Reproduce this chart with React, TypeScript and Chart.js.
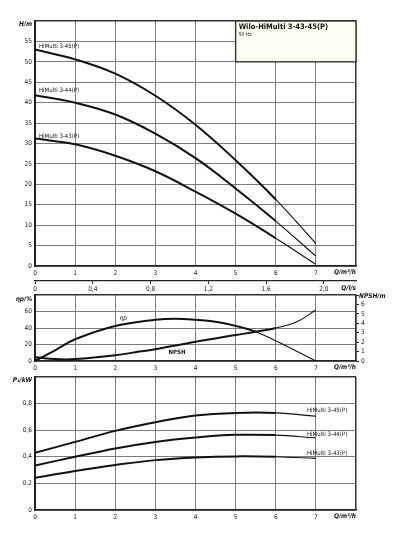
import React, { useEffect, useRef } from 'react';
import { Chart, registerables } from 'chart.js';

Chart.register(...registerables);

const FONT = "'DejaVu Sans Condensed', 'Liberation Sans Narrow', 'DejaVu Sans', sans-serif";

// ---- data ----
const flow = [0, 1, 2, 3, 4, 5, 6, 7];
const head45 = [53.0, 50.6, 47.1, 41.7, 34.6, 25.9, 16.3, 5.5];
const head44 = [41.8, 40.0, 37.1, 32.4, 26.4, 19.0, 11.0, 2.4];
const head43 = [31.2, 29.8, 27.0, 23.2, 18.2, 12.8, 6.8, 0.4];

const flowEta = [0, 0.5, 1, 2, 3, 3.5, 4, 4.5, 5, 5.5, 6, 7];
const eta = [0, 13, 26.3, 42.4, 50.0, 51.3, 50.0, 47.5, 42.6, 35.5, 24.5, 0];

const flowNpsh = [0, 0.5, 1, 2, 2.6, 3, 4, 5, 5.5, 6, 6.5, 7];
const npsh = [0.4, 0.2, 0.2, 0.6, 1.0, 1.25, 2.05, 2.75, 3.1, 3.5, 4.1, 5.4];

const power45 = [0.43, 0.512, 0.595, 0.66, 0.71, 0.73, 0.73, 0.705];
const power44 = [0.335, 0.4, 0.463, 0.512, 0.545, 0.565, 0.563, 0.543];
const power43 = [0.242, 0.293, 0.338, 0.375, 0.395, 0.403, 0.4, 0.388];

const flowTicksMax = 8;
const lsTicks = [0, 0.4, 0.8, 1.2, 1.6, 2.0];
const lsLabels = ['0', '0,4', '0,8', '1,2', '1,6', '2,0'];
const seriesNames = ['HiMulti 3-45(P)', 'HiMulti 3-44(P)', 'HiMulti 3-43(P)'];
const title = 'Wilo-HiMulti 3-43-45(P)';
const subtitle = '50 Hz';

const pts = (xs: number[], ys: number[]) => xs.map((x, i) => ({ x, y: ys[i] }));

const GRID = '#6e6e6e';
const EDGE = '#333';
const TICK_FONT = { family: FONT, size: 6.5 };

function txt(ctx: CanvasRenderingContext2D, s: string, x: number, y: number, font: string, align: CanvasTextAlign = 'left', color = '#111') {
  ctx.save();
  ctx.font = font;
  ctx.fillStyle = color;
  ctx.textAlign = align;
  ctx.textBaseline = 'middle';
  ctx.fillText(s, x, y);
  ctx.restore();
}

function line(data: { x: number; y: number }[], thinFrom: number, yAxisID = 'y') {
  return {
    data,
    yAxisID,
    borderColor: '#111',
    borderWidth: 2,
    pointRadius: 0,
    fill: false,
    tension: 0.4,
    segment: { borderWidth: (c: any) => (c.p0.parsed.x >= thinFrom ? 1.1 : 2) },
  };
}

function xScale(height: number) {
  return {
    type: 'linear',
    position: 'bottom',
    min: 0,
    max: flowTicksMax,
    weight: 0,
    afterBuildTicks: (s: any) => {
      s.ticks = [0, 1, 2, 3, 4, 5, 6, 7, 8].map((v) => ({ value: v }));
    },
    ticks: {
      callback: (v: any) => (v < flowTicksMax ? String(v) : ''),
      font: TICK_FONT,
      color: '#222',
      padding: 3,
      maxRotation: 0,
      autoSkip: false,
    },
    grid: {
      drawTicks: false,
      color: (c: any) => (c.tick && c.tick.value === flowTicksMax ? EDGE : GRID),
      lineWidth: (c: any) => (c.tick && c.tick.value === flowTicksMax ? 1.5 : 0.9),
    },
    border: { color: '#222', width: 1.6 },
    afterFit: (s: any) => {
      s.height = height;
    },
  };
}

function yScale(min: number, max: number, step: number, fmt: (v: number) => string) {
  return {
    type: 'linear',
    position: 'left',
    min,
    max,
    afterBuildTicks: (s: any) => {
      const t = [];
      for (let v = min; v <= max + 1e-9; v += step) t.push({ value: Math.round(v * 1000) / 1000 });
      s.ticks = t;
    },
    ticks: {
      callback: (v: any) => (v < max - 1e-9 ? fmt(v) : ''),
      font: TICK_FONT,
      color: '#222',
      padding: 3,
      autoSkip: false,
    },
    grid: {
      drawTicks: false,
      color: (c: any) => (c.tick && Math.abs(c.tick.value - max) < 1e-9 ? EDGE : GRID),
      lineWidth: (c: any) => (c.tick && Math.abs(c.tick.value - max) < 1e-9 ? 1.5 : 0.9),
    },
    border: { color: '#222', width: 2 },
    afterFit: (s: any) => {
      s.width = 35;
    },
  };
}

const UNIT_FONT = `italic bold 6.5px ${FONT}`;
const LABEL_FONT = `6px ${FONT}`;

function makeHead(): any {
  return {
    type: 'line',
    data: {
      datasets: [line(pts(flow, head45), 6), line(pts(flow, head44), 6), line(pts(flow, head43), 6)],
    },
    options: {
      responsive: false,
      animation: false,
      layout: { padding: { top: 21, right: 42, bottom: 4, left: 0 } },
      plugins: { legend: { display: false }, tooltip: { enabled: false } },
      scales: {
        x: xScale(15),
        x2: {
          type: 'linear',
          position: 'bottom',
          weight: 1,
          min: 0,
          max: flowTicksMax / 3.6,
          afterBuildTicks: (s: any) => {
            s.ticks = lsTicks.map((v) => ({ value: v }));
          },
          ticks: {
            callback: (_v: any, i: number) => lsLabels[i] ?? '',
            font: TICK_FONT,
            color: '#222',
            padding: 1,
            maxRotation: 0,
            autoSkip: false,
          },
          grid: { drawOnChartArea: false, tickLength: 3, color: '#222', lineWidth: 1 },
          border: { color: '#222', width: 1.2 },
          afterFit: (s: any) => {
            s.height = 15;
          },
        },
        y: yScale(0, 60, 5, (v) => String(v)),
      },
    },
    plugins: [
      {
        id: 'headLabels',
        afterDraw(chart: any) {
          const { ctx, chartArea } = chart;
          const xs = chart.scales.x;
          const ys = chart.scales.y;
          txt(ctx, 'H/m', chartArea.left - 3, chartArea.top + 3, UNIT_FONT, 'right');
          txt(ctx, 'Q/m³/h', chartArea.right, chartArea.bottom + 6.5, UNIT_FONT, 'right');
          txt(ctx, 'Q/l/s', chartArea.right, chartArea.bottom + 22, UNIT_FONT, 'right');
          // curve labels
          const lx = xs.getPixelForValue(0.1);
          txt(ctx, seriesNames[0], lx, ys.getPixelForValue(53.85), LABEL_FONT);
          txt(ctx, seriesNames[1], lx, ys.getPixelForValue(43.0), LABEL_FONT);
          txt(ctx, seriesNames[2], lx, ys.getPixelForValue(31.8), LABEL_FONT);
          // title box
          const bx = xs.getPixelForValue(5);
          const by = chartArea.top;
          const bw = chartArea.right - bx;
          const bh = ys.getPixelForValue(50) - by;
          ctx.save();
          ctx.fillStyle = '#fdfcf0';
          ctx.fillRect(bx, by, bw, bh);
          ctx.strokeStyle = '#333';
          ctx.lineWidth = 1.4;
          ctx.strokeRect(bx, by, bw, bh);
          ctx.restore();
          txt(ctx, title, bx + 3, by + 6, `bold 7.5px ${FONT}`);
          txt(ctx, subtitle, bx + 3, by + 14, `5px ${FONT}`);
        },
      },
    ],
  };
}

function makeEff(): any {
  return {
    type: 'line',
    data: {
      datasets: [line(pts(flowEta, eta), 5.5, 'y'), line(pts(flowNpsh, npsh), 6.0, 'y1')],
    },
    options: {
      responsive: false,
      animation: false,
      layout: { padding: { top: 10, right: 0, bottom: 7, left: 0 } },
      plugins: { legend: { display: false }, tooltip: { enabled: false } },
      scales: {
        x: xScale(12),
        y: yScale(0, 80, 20, (v) => String(v)),
        y1: {
          type: 'linear',
          position: 'right',
          min: 0,
          max: 7,
          afterBuildTicks: (s: any) => {
            s.ticks = [0, 1, 2, 3, 4, 5, 6, 7].map((v) => ({ value: v }));
          },
          ticks: {
            callback: (v: any) => (v < 7 ? String(v) : ''),
            font: TICK_FONT,
            color: '#222',
            padding: 2,
            autoSkip: false,
          },
          grid: { drawOnChartArea: false, tickLength: 3, color: '#222', lineWidth: 1 },
          border: { color: EDGE, width: 1.5 },
          afterFit: (s: any) => {
            s.width = 42;
          },
        },
      },
    },
    plugins: [
      {
        id: 'effLabels',
        afterDraw(chart: any) {
          const { ctx, chartArea } = chart;
          const xs = chart.scales.x;
          const ys = chart.scales.y;
          txt(ctx, 'ηp/%', chartArea.left - 3, chartArea.top + 4, UNIT_FONT, 'right');
          txt(ctx, 'NPSH/m', chartArea.right + 3, chartArea.top + 1.5, UNIT_FONT, 'left');
          txt(ctx, 'Q/m³/h', chartArea.right, chartArea.bottom + 6.5, UNIT_FONT, 'right');
          txt(ctx, 'ηp', xs.getPixelForValue(2.2), ys.getPixelForValue(52), `italic 6.5px ${FONT}`, 'center');
          txt(ctx, 'NPSH', xs.getPixelForValue(3.54), ys.getPixelForValue(10.9), `bold 6px ${FONT}`, 'center');
        },
      },
    ],
  };
}

function makePower(): any {
  return {
    type: 'line',
    data: {
      datasets: [line(pts(flow, power45), 6.0), line(pts(flow, power44), 6.0), line(pts(flow, power43), 6.0)],
    },
    options: {
      responsive: false,
      animation: false,
      layout: { padding: { top: 12, right: 42, bottom: 18, left: 0 } },
      plugins: { legend: { display: false }, tooltip: { enabled: false } },
      scales: {
        x: xScale(12),
        y: yScale(0, 1, 0.2, (v) => (v === 0 ? '0' : v.toFixed(1).replace('.', ','))),
      },
    },
    plugins: [
      {
        id: 'powerLabels',
        afterDraw(chart: any) {
          const { ctx, chartArea } = chart;
          const xs = chart.scales.x;
          const ys = chart.scales.y;
          txt(ctx, 'P₁/kW', chartArea.left - 3, chartArea.top + 3, UNIT_FONT, 'right');
          txt(ctx, 'Q/m³/h', chartArea.right, chartArea.bottom + 6.5, UNIT_FONT, 'right');
          const lx = xs.getPixelForValue(6.78);
          txt(ctx, seriesNames[0], lx, ys.getPixelForValue(0.745), LABEL_FONT);
          txt(ctx, seriesNames[1], lx, ys.getPixelForValue(0.57), LABEL_FONT);
          txt(ctx, seriesNames[2], lx, ys.getPixelForValue(0.428), LABEL_FONT);
        },
      },
    ],
  };
}

function ChartBox({ top, height, make }: { top: number; height: number; make: () => any }) {
  const ref = useRef<HTMLCanvasElement>(null);
  useEffect(() => {
    const chart = new Chart(ref.current as HTMLCanvasElement, make());
    return () => chart.destroy();
  }, []);
  return (
    <canvas
      ref={ref}
      width={398}
      height={height}
      style={{ position: 'absolute', left: 0, top, width: 398, height }}
    />
  );
}

export default function App() {
  return (
    <div style={{ position: 'fixed', left: 0, top: 0, width: 398, height: 540, background: '#fff', overflow: 'hidden' }}>
      <ChartBox top={0} height={300} make={makeHead} />
      <ChartBox top={285} height={95} make={makeEff} />
      <ChartBox top={365} height={175} make={makePower} />
    </div>
  );
}
